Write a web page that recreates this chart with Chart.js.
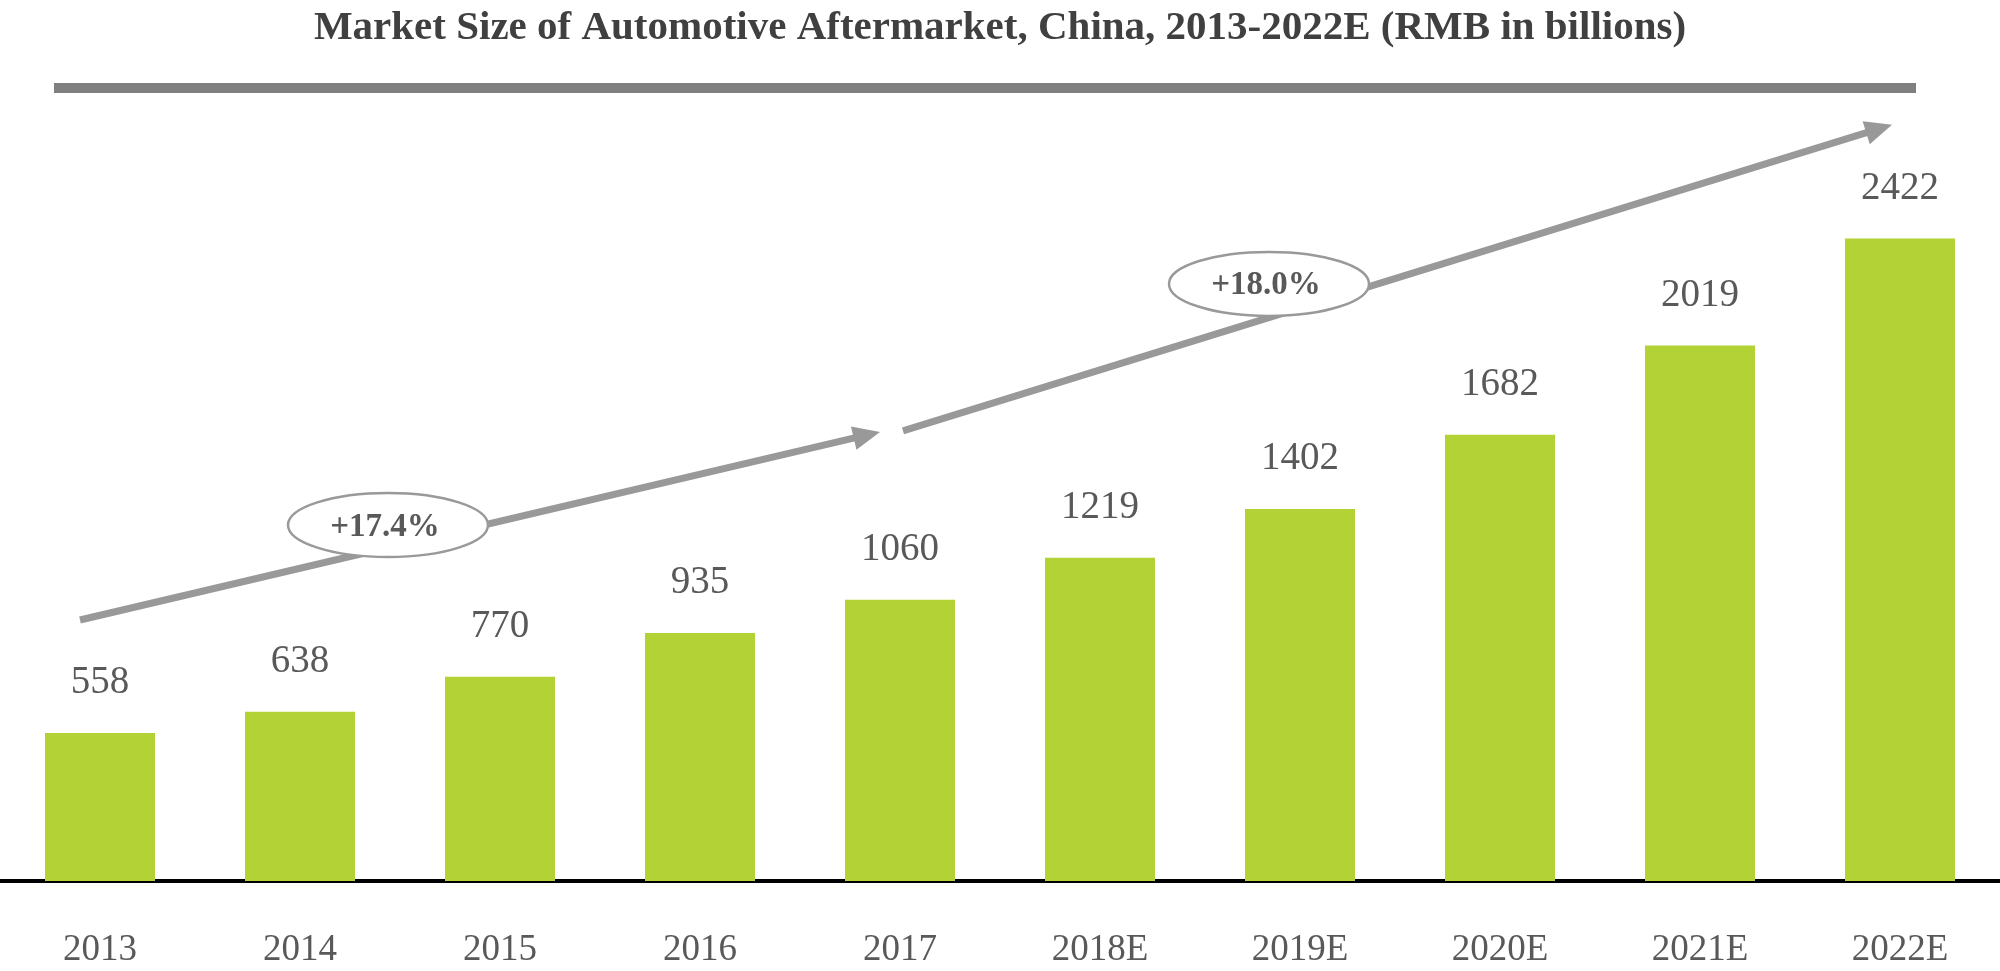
<!DOCTYPE html>
<html>
<head>
<meta charset="utf-8">
<title>Automotive Aftermarket, China</title>
<script src="https://cdn.jsdelivr.net/npm/chart.js@4.4.0/dist/chart.umd.min.js"></script>
<style>
    html, body { margin: 0; padding: 0; background: #ffffff; }
    #wrap { width: 2000px; height: 971px; }
</style>
</head>
<body>
<div id="wrap"><canvas id="marketChart" width="2000" height="971"></canvas></div>
<script>
// chart data
const years = ['2013', '2014', '2015', '2016', '2017', '2018E', '2019E', '2020E', '2021E', '2022E'];
const marketSize = [558, 638, 770, 935, 1060, 1219, 1402, 1682, 2019, 2422];
const cagrLabels = ['+17.4%', '+18.0%'];

const SERIF = '"Liberation Serif", "Times New Roman", serif';
const TEXT_GREY = '#595959';

// growth arrows + ellipse callouts, placed in scale units (category index, RMB bn)
const growthMarks = [
    { from: [-0.1, 984], to: [3.9, 1693], bubble: [1.44, 1342] },
    { from: [4.015, 1697], to: [8.96, 2851], bubble: [5.845, 2251] }
];

function drawArrow(ctx, x1, y1, x2, y2) {
    const ang = Math.atan2(y2 - y1, x2 - x1);
    const headLen = 27, headHalf = 12;
    ctx.strokeStyle = '#999999';
    ctx.fillStyle = '#999999';
    ctx.lineWidth = 7;
    ctx.lineCap = 'butt';
    ctx.beginPath();
    ctx.moveTo(x1, y1);
    ctx.lineTo(x2 - Math.cos(ang) * (headLen - 2), y2 - Math.sin(ang) * (headLen - 2));
    ctx.stroke();
    ctx.beginPath();
    ctx.moveTo(x2, y2);
    ctx.lineTo(x2 - Math.cos(ang) * headLen - Math.sin(ang) * headHalf, y2 - Math.sin(ang) * headLen + Math.cos(ang) * headHalf);
    ctx.lineTo(x2 - Math.cos(ang) * headLen + Math.sin(ang) * headHalf, y2 - Math.sin(ang) * headLen - Math.cos(ang) * headHalf);
    ctx.closePath();
    ctx.fill();
}

const decorPlugin = {
    id: 'decor',
    afterDatasetsDraw(chart) {
        const ctx = chart.ctx;
        const xs = chart.scales.x, ys = chart.scales.y;
        ctx.save();

        // grey rule under the title
        ctx.fillStyle = '#808080';
        ctx.fillRect(54, 83, 1862, 10);

        // value labels above the bars
        ctx.font = '39px ' + SERIF;
        ctx.fillStyle = TEXT_GREY;
        ctx.textAlign = 'center';
        ctx.textBaseline = 'middle';
        chart.getDatasetMeta(0).data.forEach((bar, i) => {
            ctx.fillText(String(marketSize[i]), bar.x, bar.y - 50);
        });

        // growth arrows
        growthMarks.forEach(m => {
            drawArrow(ctx,
                xs.getPixelForValue(m.from[0]), ys.getPixelForValue(m.from[1]),
                xs.getPixelForValue(m.to[0]), ys.getPixelForValue(m.to[1]));
        });

        // CAGR bubbles
        growthMarks.forEach((m, i) => {
            const cx = xs.getPixelForValue(m.bubble[0]);
            const cy = ys.getPixelForValue(m.bubble[1]);
            ctx.beginPath();
            ctx.ellipse(cx, cy, 100, 32, 0, 0, Math.PI * 2);
            ctx.fillStyle = '#ffffff';
            ctx.fill();
            ctx.lineWidth = 2.5;
            ctx.strokeStyle = '#999999';
            ctx.stroke();
            ctx.font = 'bold 33px ' + SERIF;
            ctx.fillStyle = TEXT_GREY;
            ctx.textAlign = 'center';
            ctx.textBaseline = 'middle';
            ctx.fillText(cagrLabels[i], cx - 3, cy + 2);
        });

        ctx.restore();
    }
};

new Chart(document.getElementById('marketChart'), {
    type: 'bar',
    data: {
        labels: years,
        datasets: [{
            data: marketSize,
            backgroundColor: '#b2d235',
            borderWidth: 0,
            barPercentage: 0.55,
            categoryPercentage: 1.0
        }]
    },
    options: {
        responsive: false,
        animation: false,
        layout: { padding: 0 },
        plugins: {
            legend: { display: false },
            tooltip: { enabled: false },
            title: {
                display: true,
                text: 'Market Size of Automotive Aftermarket, China, 2013-2022E (RMB in billions)',
                color: '#404040',
                font: { family: SERIF, size: 41, weight: 'bold' },
                padding: { top: 4, bottom: 32 }
            }
        },
        scales: {
            x: {
                grid: { display: false, drawTicks: false },
                border: { display: true, color: '#000000', width: 4 },
                ticks: {
                    color: TEXT_GREY,
                    font: { family: SERIF, size: 37 },
                    padding: 47,
                    maxRotation: 0,
                    autoSkip: false
                },
                afterFit: (scale) => { scale.height = 90; }
            },
            y: {
                display: false,
                min: 0,
                max: 3000
            }
        }
    },
    plugins: [decorPlugin]
});
</script>
</body>
</html>
